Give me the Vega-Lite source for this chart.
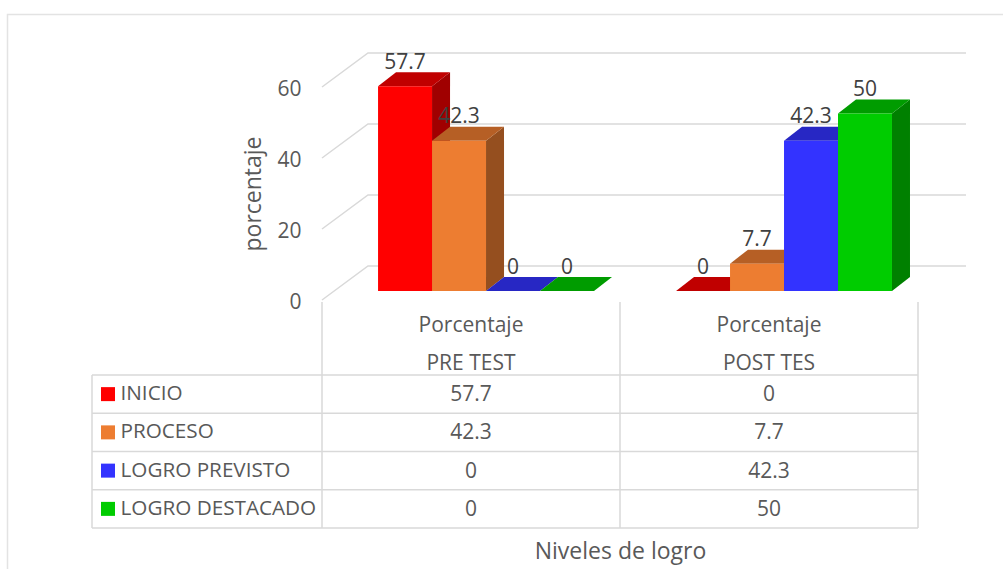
{
"$schema":"https://vega.github.io/schema/vega-lite/v6.json",
"autosize":{"type":"none"},
"padding":{"left":322,"top":87,"right":85,"bottom":41},
"width":596,"height":441,
"background":"white",
"config":{"view":{"stroke":null},"font":"Open Sans"},
"data":{"values":[
{"grupo":"PRE TEST","serie":"INICIO","valor":57.7},
{"grupo":"PRE TEST","serie":"PROCESO","valor":42.3},
{"grupo":"PRE TEST","serie":"LOGRO PREVISTO","valor":0},
{"grupo":"PRE TEST","serie":"LOGRO DESTACADO","valor":0},
{"grupo":"POST TES","serie":"INICIO","valor":0},
{"grupo":"POST TES","serie":"PROCESO","valor":7.7},
{"grupo":"POST TES","serie":"LOGRO PREVISTO","valor":42.3},
{"grupo":"POST TES","serie":"LOGRO DESTACADO","valor":50}
]},
"resolve":{"scale":{"y":"independent","color":"independent","shape":"independent"},"axis":{"y":"independent"}},
"layer":[
{"data":{"values":[{"nivel":0},{"nivel":20},{"nivel":40},{"nivel":60}]},
 "mark":{"type":"point","shape":"M-149,0L-103,-34H495","size":4,"filled":false,"stroke":"#d9d9d9","strokeWidth":1.5,"opacity":1},
 "encoding":{
  "x":{"datum":"PRE TEST","type":"nominal","scale":{"type":"band","domain":["PRE TEST","POST TES"],"paddingInner":0,"paddingOuter":0},"axis":{"labels":false,"ticks":false,"domain":false,"grid":false,"title":"Niveles de logro","titleFontSize":23,"titleFontWeight":"normal","titleColor":"#595959","titlePadding":12}},
  "y":{"field":"nivel","type":"quantitative","scale":{"domain":[0,60],"range":[213,0]},
   "axis":{"values":[0,20,40,60],"title":"porcentaje","titleFontSize":23,"titleFontWeight":"normal","titleColor":"#595959","titlePadding":11,"labelFontSize":21,"labelColor":"#595959","labelPadding":21,"labelOffset":2,"ticks":false,"domain":false,"grid":false}}
 }},
{"transform":[{"filter":"datum.valor>0"}],
 "mark":{"type":"point","size":4,"filled":true,"opacity":1,"strokeWidth":0},
 "encoding":{
  "x":{"field":"grupo","type":"nominal","scale":{"type":"band","domain":["PRE TEST","POST TES"],"paddingInner":0,"paddingOuter":0}},
  "xOffset":{"field":"serie","type":"nominal","scale":{"domain":["INICIO","PROCESO","LOGRO PREVISTO","LOGRO DESTACADO"],"paddingInner":0,"paddingOuter":0.76,"align":0.683}},
  "y":{"datum":0,"type":"quantitative","scale":{"domain":[0,60],"range":[213,0]},"axis":null},
  "shape":{"field":"valor","type":"nominal","legend":null,"scale":{"domain":[57.7,42.3,7.7,50],"range":["M27,-9L45,-23V-227.8L27,-213.8Z","M27,-9L45,-23V-173.2L27,-159.2Z","M27,-9L45,-23V-50.3L27,-36.3Z","M27,-9L45,-23V-200.5L27,-186.5Z"]}},
  "color":{"field":"serie","type":"nominal","legend":null,"scale":{"domain":["INICIO","PROCESO","LOGRO PREVISTO","LOGRO DESTACADO"],"range":["#a00000","#954f1f","#2020a0","#008000"]}}
 }},
{"mark":{"type":"point","shape":"M-27,-9L-9,-23H45L27,-9Z","size":4,"filled":true,"opacity":1,"strokeWidth":0},
 "encoding":{
  "x":{"field":"grupo","type":"nominal"},
  "xOffset":{"field":"serie","type":"nominal"},
  "y":{"field":"valor","type":"quantitative","scale":{"domain":[0,60],"range":[213,0]},"axis":null},
  "color":{"field":"serie","type":"nominal","legend":null,"scale":{"domain":["INICIO","PROCESO","LOGRO PREVISTO","LOGRO DESTACADO"],"range":["#c00000","#b65f25","#2727c4","#009c00"]}}
 }},
{"mark":{"type":"bar","yOffset":-9},
 "encoding":{
  "x":{"field":"grupo","type":"nominal"},
  "xOffset":{"field":"serie","type":"nominal"},
  "y":{"field":"valor","type":"quantitative","scale":{"domain":[0,60],"range":[213,0]},"axis":null},
  "color":{"field":"serie","type":"nominal","legend":null,"scale":{"domain":["INICIO","PROCESO","LOGRO PREVISTO","LOGRO DESTACADO"],"range":["#ff0000","#ed7d31","#3333ff","#00cc00"]}}
 }},
{"mark":{"type":"text","fontSize":21,"color":"#404040","yOffset":-32.5,"baseline":"middle"},
 "encoding":{
  "x":{"field":"grupo","type":"nominal"},
  "xOffset":{"field":"serie","type":"nominal"},
  "y":{"field":"valor","type":"quantitative","scale":{"domain":[0,60],"range":[213,0]},"axis":null},
  "text":{"field":"valor","type":"quantitative"}
 }},
{"data":{"values":[{"borde":"tabla"}]},
 "mark":{"type":"point","shape":"M-149,-15.6V210.4M149,-15.6V210.4M447,-15.6V210.4M-379,57.4V210.4M-379,210.4H447","size":4,"filled":false,"stroke":"#d9d9d9","strokeWidth":1.5,"opacity":1},
 "encoding":{
  "x":{"datum":"PRE TEST","type":"nominal"},
  "y":{"datum":"Porcentaje","type":"nominal","scale":{"type":"band","domain":["Porcentaje","Prueba","INICIO","PROCESO","LOGRO PREVISTO","LOGRO DESTACADO"],"range":[211.5,441],"paddingInner":0,"paddingOuter":0},"axis":null}
 }},
{"data":{"values":[{"borde":"marco"}]},
 "mark":{"type":"point","shape":"M-463.5,251.4V-303.1H532","size":4,"filled":false,"stroke":"#e3e3e3","strokeWidth":1.5,"opacity":1},
 "encoding":{
  "x":{"datum":"PRE TEST","type":"nominal"},
  "y":{"datum":"Porcentaje","type":"nominal","scale":{"type":"band","domain":["Porcentaje","Prueba","INICIO","PROCESO","LOGRO PREVISTO","LOGRO DESTACADO"],"range":[211.5,441],"paddingInner":0,"paddingOuter":0},"axis":null}
 }},
{"transform":[{"filter":"datum.grupo==='PRE TEST'"}],
 "mark":{"type":"point","shape":"M-379,-19.1H447","size":4,"filled":false,"stroke":"#d9d9d9","strokeWidth":1.5,"opacity":1},
 "encoding":{
  "x":{"datum":"PRE TEST","type":"nominal"},
  "y":{"field":"serie","type":"nominal","sort":null,"scale":{"type":"band","domain":["Porcentaje","Prueba","INICIO","PROCESO","LOGRO PREVISTO","LOGRO DESTACADO"],"range":[211.5,441],"paddingInner":0,"paddingOuter":0},
   "axis":{"values":["INICIO","PROCESO","LOGRO PREVISTO","LOGRO DESTACADO"],"orient":"left","title":null,"labelAlign":"left","labelPadding":202,"labelFontSize":20.7,"labelColor":"#595959","labelLimit":0,"labelOffset":0,"ticks":false,"domain":false,"grid":false}}
 }},
{"transform":[{"filter":"datum.grupo==='PRE TEST'"}],
 "mark":{"type":"point","shape":"M-370,-7H-356V7H-370Z","size":4,"filled":true,"opacity":1,"strokeWidth":0},
 "encoding":{
  "x":{"datum":"PRE TEST","type":"nominal"},
  "y":{"field":"serie","type":"nominal","scale":{"type":"band","domain":["Porcentaje","Prueba","INICIO","PROCESO","LOGRO PREVISTO","LOGRO DESTACADO"],"range":[211.5,441],"paddingInner":0,"paddingOuter":0},"axis":null},
  "color":{"field":"serie","type":"nominal","legend":null,"scale":{"domain":["INICIO","PROCESO","LOGRO PREVISTO","LOGRO DESTACADO"],"range":["#ff0000","#ed7d31","#3333ff","#00cc00"]}}
 }},
{"mark":{"type":"text","fontSize":21,"color":"#595959","baseline":"middle","yOffset":1},
 "encoding":{
  "x":{"field":"grupo","type":"nominal"},
  "y":{"field":"serie","type":"nominal","scale":{"type":"band","domain":["Porcentaje","Prueba","INICIO","PROCESO","LOGRO PREVISTO","LOGRO DESTACADO"],"range":[211.5,441],"paddingInner":0,"paddingOuter":0},"axis":null},
  "text":{"field":"valor","type":"quantitative"}
 }},
{"transform":[{"filter":"datum.serie==='INICIO'"}],
 "mark":{"type":"text","fontSize":21,"color":"#595959","baseline":"middle","yOffset":8},
 "encoding":{
  "x":{"field":"grupo","type":"nominal"},
  "y":{"datum":"Prueba","type":"nominal","scale":{"type":"band","domain":["Porcentaje","Prueba","INICIO","PROCESO","LOGRO PREVISTO","LOGRO DESTACADO"],"range":[211.5,441],"paddingInner":0,"paddingOuter":0},"axis":null},
  "text":{"field":"grupo","type":"nominal"}
 }},
{"transform":[{"filter":"datum.serie==='INICIO'"}],
 "mark":{"type":"text","fontSize":21,"color":"#595959","baseline":"middle","yOffset":8},
 "encoding":{
  "x":{"field":"grupo","type":"nominal"},
  "y":{"datum":"Porcentaje","type":"nominal","scale":{"type":"band","domain":["Porcentaje","Prueba","INICIO","PROCESO","LOGRO PREVISTO","LOGRO DESTACADO"],"range":[211.5,441],"paddingInner":0,"paddingOuter":0},"axis":null},
  "text":{"datum":"Porcentaje"}
 }}
]
}
